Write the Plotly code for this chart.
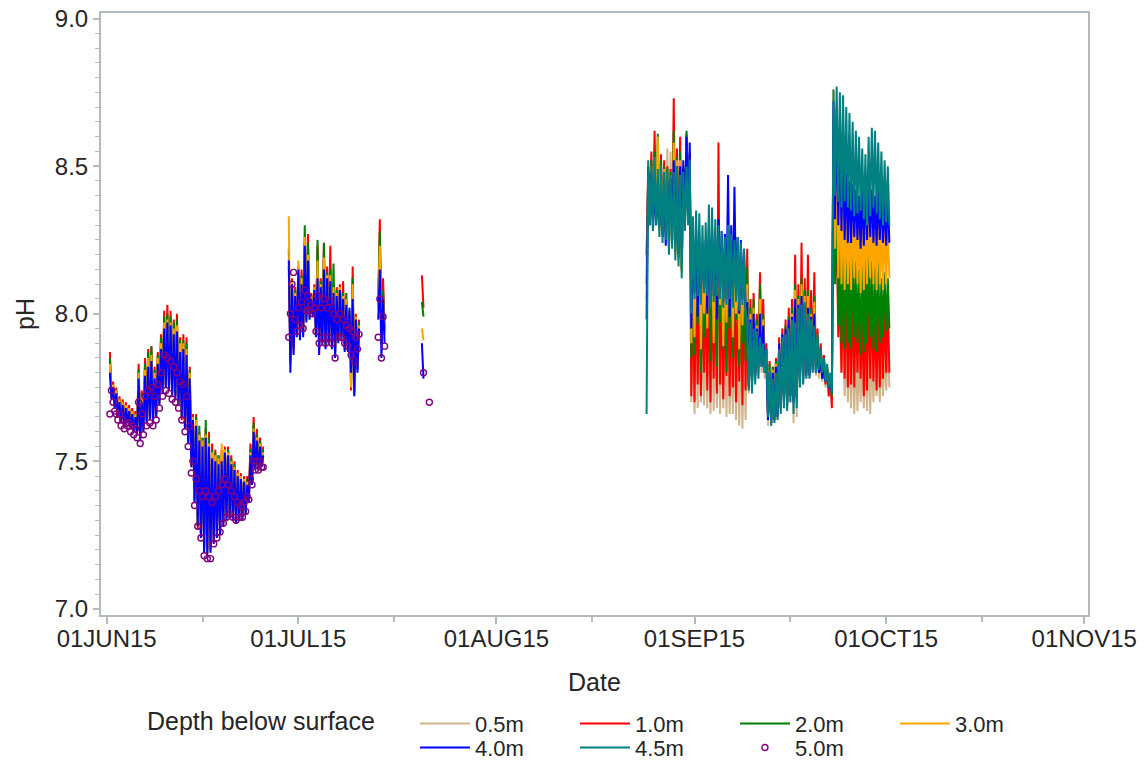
import pandas as pd
import plotly.graph_objects as go

FONT = "Liberation Sans, Arial, sans-serif"
AXIS_COLOR = "#B3BAC0"
TEXT_COLOR = "#262626"

SERIES = ["0.5m", "1.0m", "2.0m", "3.0m", "4.0m", "4.5m", "5.0m"]
COLORS = {
    "0.5m": "#D2B48C", "1.0m": "#FF0000", "2.0m": "#008000", "3.0m": "#FFA500",
    "4.0m": "#0000FF", "4.5m": "#008080", "5.0m": "#800080",
}
LEGEND_ROW1 = ["0.5m", "1.0m", "2.0m", "3.0m"]

MONTH_TICKS = ["2015-06-01", "2015-07-01", "2015-08-01", "2015-09-01", "2015-10-01", "2015-11-01"]
MONTH_LABELS = ["01JUN15", "01JUL15", "01AUG15", "01SEP15", "01OCT15", "01NOV15"]
MID_TICKS = ["2015-06-16", "2015-07-16", "2015-08-16", "2015-09-16", "2015-10-16"]

# ---- time grids of the measurement segments (6-hourly) ----
SEG_A_START, SEG_A_N = "2015-06-01 12:00", 97
SEG_B1_START, SEG_B1_N = "2015-06-29 12:00", 45
SEG_B2_TIMES = ["2015-07-13 12:00", "2015-07-13 18:00", "2015-07-14 00:00", "2015-07-14 06:00", "2015-07-14 12:00"]
SEG_B3_TIMES = ["2015-07-20 08:00", "2015-07-20 14:00", "2015-07-21 12:00"]
SEG_C_START, SEG_C_N = "2015-08-24 12:00", 153

# ---- pH values: early June ----
ph_1_0_A = [7.87, 7.72, 7.77, 7.69, 7.75, 7.66, 7.72, 7.64, 7.71, 7.63,
            7.70, 7.64, 7.69, 7.62, 7.68, 7.61, 7.67, 7.60, 7.83, 7.58,
            7.74, 7.61, 7.85, 7.64, 7.88, 7.65, 7.89, 7.64, 7.82, 7.66,
            7.87, 7.70, 7.93, 7.74, 8.01, 7.76, 8.03, 7.75, 8.01, 7.73,
            7.98, 7.72, 8.00, 7.70, 7.92, 7.64, 7.93, 7.62, 7.92, 7.57,
            7.82, 7.50, 7.66, 7.37, 7.66, 7.27, 7.60, 7.25, 7.58, 7.21,
            7.61, 7.20, 7.60, 7.21, 7.56, 7.23, 7.54, 7.24, 7.52, 7.26,
            7.54, 7.29, 7.55, 7.31, 7.55, 7.32, 7.52, 7.31, 7.50, 7.30,
            7.47, 7.31, 7.46, 7.31, 7.45, 7.33, 7.45, 7.37, 7.56, 7.43,
            7.65, 7.48, 7.61, 7.48, 7.58, 7.49, 7.55]
ph_2_0_A = [7.85, 7.72, 7.76, 7.69, 7.74, 7.66, 7.71, 7.64, 7.70, 7.63,
            7.69, 7.64, 7.68, 7.62, 7.67, 7.61, 7.66, 7.60, 7.81, 7.58,
            7.73, 7.61, 7.83, 7.64, 7.87, 7.65, 7.89, 7.64, 7.81, 7.66,
            7.86, 7.70, 7.92, 7.74, 7.99, 7.76, 8.00, 7.75, 7.99, 7.73,
            7.97, 7.72, 7.98, 7.70, 7.91, 7.65, 7.91, 7.62, 7.90, 7.57,
            7.81, 7.49, 7.65, 7.37, 7.65, 7.28, 7.62, 7.25, 7.58, 7.20,
            7.64, 7.19, 7.58, 7.20, 7.54, 7.23, 7.53, 7.25, 7.52, 7.26,
            7.52, 7.29, 7.54, 7.31, 7.54, 7.32, 7.51, 7.31, 7.49, 7.30,
            7.46, 7.31, 7.45, 7.31, 7.44, 7.33, 7.44, 7.37, 7.54, 7.43,
            7.63, 7.48, 7.59, 7.48, 7.57, 7.49, 7.54]
ph_3_0_A = [7.83, 7.71, 7.76, 7.68, 7.74, 7.65, 7.71, 7.63, 7.70, 7.62,
            7.69, 7.63, 7.68, 7.61, 7.67, 7.60, 7.66, 7.59, 7.80, 7.57,
            7.72, 7.60, 7.81, 7.63, 7.85, 7.64, 7.86, 7.63, 7.80, 7.65,
            7.85, 7.69, 7.90, 7.73, 7.97, 7.75, 7.98, 7.74, 7.97, 7.72,
            7.95, 7.71, 7.96, 7.69, 7.90, 7.65, 7.90, 7.61, 7.88, 7.56,
            7.80, 7.48, 7.65, 7.36, 7.64, 7.28, 7.59, 7.24, 7.57, 7.19,
            7.59, 7.18, 7.56, 7.19, 7.53, 7.22, 7.52, 7.24, 7.51, 7.25,
            7.56, 7.28, 7.54, 7.30, 7.53, 7.31, 7.50, 7.30, 7.48, 7.29,
            7.46, 7.30, 7.45, 7.30, 7.44, 7.32, 7.43, 7.36, 7.53, 7.42,
            7.61, 7.47, 7.58, 7.47, 7.56, 7.48, 7.53]
ph_4_0_A = [7.80, 7.71, 7.75, 7.68, 7.73, 7.65, 7.70, 7.63, 7.69, 7.62,
            7.68, 7.63, 7.67, 7.61, 7.66, 7.60, 7.65, 7.59, 7.78, 7.57,
            7.70, 7.60, 7.79, 7.63, 7.82, 7.64, 7.84, 7.63, 7.78, 7.65,
            7.83, 7.69, 7.88, 7.73, 7.95, 7.75, 7.97, 7.74, 7.96, 7.72,
            7.93, 7.71, 7.94, 7.69, 7.87, 7.65, 7.88, 7.61, 7.86, 7.56,
            7.78, 7.48, 7.64, 7.36, 7.62, 7.28, 7.57, 7.24, 7.55, 7.19,
            7.58, 7.18, 7.55, 7.19, 7.51, 7.22, 7.50, 7.24, 7.49, 7.25,
            7.50, 7.28, 7.53, 7.30, 7.52, 7.31, 7.49, 7.30, 7.47, 7.29,
            7.45, 7.30, 7.44, 7.30, 7.43, 7.32, 7.42, 7.36, 7.52, 7.42,
            7.60, 7.47, 7.57, 7.47, 7.55, 7.48, 7.52]
ph_5_0_A = [7.66, 7.74, 7.70, 7.67, 7.66, 7.64, 7.66, 7.62, 7.64, 7.61,
            7.63, 7.62, 7.63, 7.60, 7.62, 7.59, 7.61, 7.58, 7.70, 7.56,
            7.66, 7.59, 7.72, 7.62, 7.74, 7.63, 7.75, 7.62, 7.72, 7.64,
            7.76, 7.68, 7.80, 7.72, 7.86, 7.74, 7.85, 7.73, 7.84, 7.71,
            7.82, 7.70, 7.80, 7.68, 7.77, 7.64, 7.76, 7.60, 7.72, 7.55,
            7.62, 7.46, 7.50, 7.35, 7.44, 7.28, 7.40, 7.24, 7.38, 7.18,
            7.40, 7.17, 7.38, 7.17, 7.36, 7.22, 7.38, 7.24, 7.40, 7.26,
            7.42, 7.29, 7.44, 7.31, 7.42, 7.32, 7.40, 7.31, 7.38, 7.30,
            7.36, 7.31, 7.35, 7.31, 7.36, 7.33, 7.38, 7.37, 7.44, 7.42,
            7.50, 7.47, 7.50, 7.47, 7.50, 7.48, 7.48]

# ---- pH values: end of June / early July ----
ph_1_0_B1 = [8.16, 7.84, 8.12, 7.88, 8.09, 7.93, 8.13, 7.93, 8.15, 7.94,
             8.24, 7.99, 8.27, 8.00, 8.07, 8.00, 8.10, 7.93, 8.23, 7.88,
             8.12, 7.91, 8.24, 7.90, 8.16, 7.91, 8.23, 7.90, 8.10, 7.87,
             8.09, 7.91, 8.10, 7.92, 8.11, 7.88, 8.05, 7.88, 8.00, 7.74,
             8.16, 7.74, 8.00, 7.82, 7.98]
ph_2_0_B1 = [8.22, 7.85, 8.11, 7.88, 8.08, 7.93, 8.16, 7.92, 8.13, 7.93,
             8.30, 7.98, 8.24, 7.99, 8.06, 8.00, 8.09, 7.93, 8.25, 7.88,
             8.11, 7.91, 8.24, 7.89, 8.14, 7.91, 8.15, 7.89, 8.17, 7.86,
             8.08, 7.91, 8.09, 7.92, 8.07, 7.88, 8.07, 7.88, 8.01, 7.76,
             8.12, 7.73, 7.99, 7.81, 7.97]
ph_3_0_B1 = [8.33, 7.83, 8.11, 7.87, 8.07, 7.93, 8.18, 7.92, 8.12, 7.93,
             8.26, 7.98, 8.20, 7.99, 8.06, 8.00, 8.09, 7.93, 8.18, 7.87,
             8.10, 7.91, 8.19, 7.89, 8.13, 7.91, 8.13, 7.89, 8.09, 7.86,
             8.07, 7.91, 8.09, 7.92, 8.06, 7.88, 8.05, 7.88, 8.01, 7.75,
             8.10, 7.72, 7.99, 7.81, 7.96]
ph_4_0_B1 = [8.18, 7.80, 8.10, 7.86, 8.06, 7.92, 8.15, 7.91, 8.10, 7.92,
             8.23, 7.97, 8.18, 7.98, 8.05, 7.99, 8.08, 7.92, 8.12, 7.86,
             8.09, 7.90, 8.15, 7.88, 8.12, 7.90, 8.11, 7.88, 8.07, 7.85,
             8.06, 7.90, 8.08, 7.91, 8.05, 7.87, 8.03, 7.87, 8.02, 7.80,
             8.05, 7.72, 7.98, 7.80, 7.95]
ph_5_0_B1 = [7.92, 8.00, 8.10, 8.14, 7.98, 7.94, 8.02, 7.96, 8.04, 7.95,
             8.08, 8.01, 8.06, 8.01, 8.03, 8.00, 8.02, 7.94, 8.06, 7.90,
             8.02, 7.92, 8.05, 7.90, 8.02, 7.92, 8.04, 7.90, 8.00, 7.85,
             7.98, 7.92, 8.00, 7.92, 7.98, 7.90, 7.96, 7.89, 7.95, 7.86,
             7.94, 7.84, 7.92, 7.88, 7.93]

ph_1_0_B2 = [8.05, 8.32, 7.92, 8.12, 7.95]
ph_2_0_B2 = [8.03, 8.28, 7.91, 8.08, 7.94]
ph_3_0_B2 = [8.02, 8.23, 7.90, 8.05, 7.93]
ph_4_0_B2 = [7.98, 8.15, 7.85, 8.05, 7.90]
ph_5_0_B2 = [7.92, 8.05, 7.85, 7.99, 7.89]

ph_1_0_B3 = [8.13, 8.02, None]
ph_2_0_B3 = [8.04, 7.99, None]
ph_3_0_B3 = [7.95, 7.91, None]
ph_4_0_B3 = [7.90, 7.78, None]
ph_5_0_B3 = [None, 7.80, 7.70]

# ---- pH values: 24 Aug - 1 Oct ----
ph_0_5_C = [8.18,
            8.47, 8.34, 8.50, 8.32, 8.50, 8.34, 8.48, 8.30, 8.48, 8.28, 8.50, 8.29, 8.56, 8.24,
            8.55, 8.26, 8.55, 8.22, 8.50, 8.20, 8.50, 8.16, 8.48, 8.32, 8.55, 8.34, 8.52, 7.70,
            7.95, 7.66, 7.98, 7.68, 7.97, 7.70, 7.92, 7.69, 7.94, 7.68, 8.00, 7.66, 7.98, 7.67,
            7.96, 7.68, 7.96, 7.66, 7.94, 7.68, 7.92, 7.65, 7.94, 7.66, 7.92, 7.66, 7.95, 7.64,
            7.93, 7.62, 7.95, 7.61, 7.90, 7.64,
            7.95, 7.73, 7.94, 7.76, 7.95, 7.78, 7.92, 7.80, 7.96, 7.80, 7.90, 7.78, 7.80, 7.62,
            7.78, 7.62, 7.78, 7.63, 7.80, 7.64, 7.88, 7.67, 7.90, 7.69, 7.93, 7.68, 7.95, 7.70,
            7.96, 7.63, 7.98, 7.65, 8.00, 7.75, 8.02, 7.76, 7.98, 7.78, 7.98, 7.78, 7.96, 7.80,
            7.96, 7.79, 7.86, 7.78, 7.84, 7.77, 7.82, 7.75, 7.80, 7.74, 7.77, 7.71,
            8.45, 8.17, 8.36, 8.00, 7.95, 7.80, 7.92, 7.72, 7.90, 7.70, 7.88, 7.68, 7.92, 7.66,
            7.88, 7.67, 7.85, 7.70, 7.86, 7.68, 7.92, 7.67, 7.90, 7.66, 7.88, 7.70, 7.86, 7.72,
            7.88, 7.70, 7.90, 7.72, 7.88, 7.74, 7.90, 7.75]
ph_1_0_C = [8.20,
            8.50, 8.33, 8.55, 8.31, 8.62, 8.33, 8.52, 8.29, 8.54, 8.27, 8.52, 8.28, 8.50, 8.23,
            8.49, 8.25, 8.73, 8.21, 8.56, 8.19, 8.60, 8.15, 8.50, 8.31, 8.61, 8.33, 8.55, 7.72,
            8.10, 7.70, 8.12, 7.76, 8.14, 7.72, 8.08, 7.80, 8.10, 7.74, 8.15, 7.70, 8.12, 7.78,
            8.10, 7.73, 8.58, 7.76, 8.12, 7.71, 8.08, 7.79, 8.14, 7.72, 8.10, 7.75, 8.12, 7.70,
            8.10, 7.77, 8.12, 7.69, 8.15, 7.74,
            8.22, 7.76, 8.05, 7.78, 8.07, 7.80, 8.00, 7.84, 8.14, 7.84, 8.05, 7.80, 7.90, 7.66,
            7.84, 7.63, 7.82, 7.64, 7.85, 7.65, 7.92, 7.68, 7.95, 7.70, 7.98, 7.69, 8.02, 7.72,
            8.05, 7.70, 8.20, 7.72, 8.10, 7.78, 8.24, 7.78, 8.12, 7.80, 8.20, 7.80, 8.08, 7.82,
            8.14, 7.81, 7.95, 7.80, 7.90, 7.78, 7.86, 7.76, 7.82, 7.72, 7.78, 7.68,
            8.60, 8.12, 8.30, 7.92, 8.10, 7.80, 8.08, 7.78, 8.10, 7.75, 8.05, 7.76, 8.08, 7.75,
            8.05, 7.80, 8.02, 7.78, 8.00, 7.72, 8.02, 7.74, 8.10, 7.78, 8.06, 7.77, 8.02, 7.74,
            8.04, 7.75, 8.05, 7.78, 8.03, 7.80, 8.05, 7.80]
ph_2_0_C = [8.10,
            8.48, 8.33, 8.52, 8.31, 8.55, 8.33, 8.61, 8.29, 8.52, 8.27, 8.50, 8.28, 8.49, 8.23,
            8.48, 8.25, 8.62, 8.21, 8.53, 8.19, 8.55, 8.15, 8.49, 8.31, 8.62, 8.33, 8.54, 7.85,
            8.16, 7.86, 8.18, 7.96, 8.18, 7.80, 8.14, 7.92, 8.15, 7.99, 8.20, 7.84, 8.19, 7.94,
            8.16, 7.82, 8.22, 7.97, 8.18, 7.88, 8.15, 7.80, 8.18, 7.95, 8.20, 7.85, 8.17, 7.98,
            8.16, 7.82, 8.18, 7.90, 8.14, 7.84,
            8.16, 7.75, 8.02, 7.77, 8.05, 7.79, 7.98, 7.83, 8.10, 7.83, 8.00, 7.80, 7.88, 7.66,
            7.83, 7.64, 7.82, 7.65, 7.84, 7.66, 7.90, 7.69, 7.93, 7.71, 7.96, 7.70, 7.99, 7.73,
            8.02, 7.71, 8.10, 7.72, 8.06, 7.78, 8.12, 7.78, 8.08, 7.80, 8.08, 7.80, 8.02, 7.82,
            8.06, 7.81, 7.92, 7.80, 7.88, 7.78, 7.85, 7.77, 7.82, 7.75, 7.78, 7.72,
            8.68, 8.10, 8.45, 7.96, 8.25, 7.90, 8.22, 7.88, 8.24, 7.90, 8.20, 7.88, 8.22, 7.92,
            8.18, 7.90, 8.15, 7.86, 8.16, 7.87, 8.22, 7.90, 8.20, 7.92, 8.18, 7.88, 8.16, 7.87,
            8.18, 7.90, 8.12, 7.92, 8.14, 7.94, 8.12, 7.95]
ph_3_0_C = [8.05,
            8.47, 8.32, 8.50, 8.30, 8.53, 8.32, 8.60, 8.28, 8.50, 8.26, 8.49, 8.27, 8.48, 8.22,
            8.47, 8.24, 8.58, 8.20, 8.52, 8.18, 8.52, 8.14, 8.48, 8.30, 8.56, 8.32, 8.53, 7.90,
            8.20, 7.92, 8.22, 8.02, 8.22, 7.88, 8.18, 8.00, 8.19, 7.95, 8.24, 8.04, 8.23, 7.90,
            8.20, 7.98, 8.26, 8.03, 8.22, 7.89, 8.20, 7.97, 8.22, 8.02, 8.24, 7.92, 8.21, 8.00,
            8.20, 7.88, 8.22, 7.96, 8.18, 8.01,
            8.10, 7.76, 8.00, 7.78, 8.02, 7.80, 7.96, 7.84, 8.05, 7.84, 7.98, 7.81, 7.86, 7.67,
            7.82, 7.65, 7.81, 7.66, 7.83, 7.67, 7.90, 7.70, 7.93, 7.72, 7.95, 7.71, 7.98, 7.74,
            8.00, 7.72, 8.08, 7.73, 8.05, 7.79, 8.10, 7.79, 8.06, 7.81, 8.06, 7.81, 8.00, 7.83,
            8.04, 7.82, 7.90, 7.81, 7.87, 7.79, 7.84, 7.78, 7.82, 7.76, 7.79, 7.73,
            8.76, 8.22, 8.60, 8.12, 8.45, 8.10, 8.38, 8.08, 8.36, 8.10, 8.34, 8.08, 8.35, 8.12,
            8.33, 8.10, 8.30, 8.07, 8.32, 8.08, 8.36, 8.10, 8.35, 8.12, 8.33, 8.10, 8.32, 8.08,
            8.34, 8.10, 8.30, 8.08, 8.31, 8.10, 8.30, 8.12]
ph_4_0_C = [7.98,
            8.50, 8.30, 8.48, 8.28, 8.45, 8.30, 8.40, 8.30, 8.45, 8.26, 8.44, 8.23, 8.45, 8.28,
            8.46, 8.30, 8.52, 8.24, 8.50, 8.20, 8.50, 8.22, 8.52, 8.32, 8.60, 8.34, 8.58, 7.95,
            8.26, 8.07, 8.28, 7.99, 8.27, 8.05, 8.24, 8.09, 8.25, 8.00, 8.30, 8.04, 8.29, 8.06,
            8.26, 7.98, 8.32, 8.07, 8.28, 8.04, 8.27, 8.05, 8.47, 7.99, 8.30, 8.04, 8.43, 8.06,
            8.26, 8.00, 8.25, 8.05, 8.22, 8.02,
            8.04, 7.75, 7.98, 7.77, 8.00, 7.79, 7.95, 7.82, 8.00, 7.82, 7.96, 7.80, 7.84, 7.64,
            7.80, 7.63, 7.80, 7.64, 7.82, 7.65, 7.90, 7.68, 7.93, 7.70, 7.95, 7.69, 7.98, 7.72,
            7.99, 7.70, 8.05, 7.71, 8.03, 7.77, 8.06, 7.77, 8.03, 7.79, 8.02, 7.79, 7.99, 7.81,
            8.00, 7.80, 7.88, 7.80, 7.86, 7.78, 7.83, 7.77, 7.81, 7.75, 7.78, 7.73,
            8.72, 8.32, 8.70, 8.30, 8.62, 8.28, 8.55, 8.25, 8.48, 8.24, 8.45, 8.24, 8.44, 8.26,
            8.42, 8.25, 8.40, 8.22, 8.42, 8.23, 8.44, 8.25, 8.45, 8.26, 8.42, 8.24, 8.40, 8.23,
            8.42, 8.25, 8.40, 8.24, 8.38, 8.23, 8.40, 8.24]
ph_4_5_C = [7.66,
            8.52, 8.30, 8.50, 8.28, 8.53, 8.30, 8.49, 8.26, 8.50, 8.24, 8.48, 8.25, 8.49, 8.20,
            8.47, 8.22, 8.48, 8.18, 8.50, 8.16, 8.47, 8.12, 8.48, 8.28, 8.50, 8.30, 8.52, 8.00,
            8.33, 8.05, 8.35, 8.06, 8.34, 8.03, 8.30, 8.07, 8.31, 8.06, 8.37, 8.02, 8.36, 8.04,
            8.32, 8.06, 8.30, 8.05, 8.28, 8.02, 8.26, 8.03, 8.30, 8.05, 8.27, 8.02, 8.25, 8.04,
            8.26, 8.01, 8.24, 8.03, 8.22, 8.00,
            7.98, 7.74, 7.97, 7.73, 7.95, 7.76, 7.94, 7.78, 7.92, 7.82, 7.90, 7.80, 7.88, 7.65,
            7.82, 7.62, 7.78, 7.63, 7.80, 7.64, 7.88, 7.66, 7.92, 7.68, 7.93, 7.67, 7.95, 7.70,
            7.98, 7.66, 7.97, 7.68, 8.02, 7.75, 8.03, 7.76, 8.04, 7.78, 8.00, 7.78, 7.98, 7.80,
            7.96, 7.80, 7.93, 7.81, 7.88, 7.80, 7.85, 7.77, 7.83, 7.75, 7.80, 7.73,
            8.76, 8.40, 8.77, 8.38, 8.75, 8.36, 8.74, 8.38, 8.70, 8.36, 8.68, 8.35, 8.65, 8.33,
            8.62, 8.34, 8.60, 8.35, 8.56, 8.32, 8.54, 8.30, 8.60, 8.33, 8.63, 8.36, 8.62, 8.34,
            8.58, 8.32, 8.55, 8.30, 8.52, 8.31, 8.50, 8.30]

DATA = {
    "0.5m": {"C": ph_0_5_C},
    "1.0m": {"A": ph_1_0_A, "B1": ph_1_0_B1, "B2": ph_1_0_B2, "B3": ph_1_0_B3, "C": ph_1_0_C},
    "2.0m": {"A": ph_2_0_A, "B1": ph_2_0_B1, "B2": ph_2_0_B2, "B3": ph_2_0_B3, "C": ph_2_0_C},
    "3.0m": {"A": ph_3_0_A, "B1": ph_3_0_B1, "B2": ph_3_0_B2, "B3": ph_3_0_B3, "C": ph_3_0_C},
    "4.0m": {"A": ph_4_0_A, "B1": ph_4_0_B1, "B2": ph_4_0_B2, "B3": ph_4_0_B3, "C": ph_4_0_C},
    "4.5m": {"C": ph_4_5_C},
    "5.0m": {"A": ph_5_0_A, "B1": ph_5_0_B1, "B2": ph_5_0_B2, "B3": ph_5_0_B3},
}


def grid(start, n):
    return list(pd.date_range(start, periods=n, freq="6h"))


TIMES = {
    "A": grid(SEG_A_START, SEG_A_N),
    "B1": grid(SEG_B1_START, SEG_B1_N),
    "B2": list(pd.to_datetime(SEG_B2_TIMES)),
    "B3": list(pd.to_datetime(SEG_B3_TIMES)),
    "C": grid(SEG_C_START, SEG_C_N),
}
SEG_ORDER = ["A", "B1", "B2", "B3", "C"]


def assemble(series):
    xs, ys = [], []
    for seg in SEG_ORDER:
        vals = DATA[series].get(seg)
        if vals is None:
            continue
        t = TIMES[seg]
        assert len(t) == len(vals), (series, seg, len(t), len(vals))
        if xs:  # break the line between measurement campaigns
            xs.append(xs[-1] + pd.Timedelta(hours=1))
            ys.append(None)
        xs.extend(t)
        ys.extend(vals)
    return [x.strftime("%Y-%m-%d %H:%M") for x in xs], ys


fig = go.Figure()
for s in SERIES:
    x, y = assemble(s)
    legend_id = "legend" if s in LEGEND_ROW1 else "legend2"
    if s == "5.0m":
        fig.add_trace(go.Scatter(
            x=x, y=y, name=s, mode="markers", legend=legend_id,
            marker=dict(symbol="circle-open", size=6, color=COLORS[s], line=dict(width=1.4, color=COLORS[s])),
        ))
    else:
        fig.add_trace(go.Scatter(
            x=x, y=y, name=s, mode="lines", legend=legend_id,
            line=dict(color=COLORS[s], width=2),
        ))

legend_common = dict(
    orientation="h", xref="container", yref="container", xanchor="left", yanchor="top", x=0.3621,
    font=dict(family=FONT, size=22, color=TEXT_COLOR),
    itemwidth=50, entrywidth=95, entrywidthmode="pixels",
    bgcolor="rgba(0,0,0,0)", borderwidth=0, traceorder="normal",
)

fig.update_layout(
    width=1146, height=766,
    margin=dict(l=101, r=58, t=13, b=151),
    paper_bgcolor="white", plot_bgcolor="white",
    font=dict(family=FONT, size=22, color=TEXT_COLOR),
    showlegend=True,
    legend=dict(**legend_common, y=0.0826),
    legend2=dict(**legend_common, y=0.0513),
    xaxis=dict(
        type="date", range=["2015-05-31 02:40", "2015-11-01 14:00"], automargin=False,
        tickmode="array", tickvals=MONTH_TICKS, ticktext=MONTH_LABELS,
        ticks="outside", ticklen=7, tickwidth=1.5, tickcolor=AXIS_COLOR,
        showline=True, linecolor=AXIS_COLOR, linewidth=2, mirror=True,
        showgrid=False, zeroline=False,
        tickfont=dict(family=FONT, size=24, color=TEXT_COLOR),
        minor=dict(tickmode="array", tickvals=MID_TICKS, ticks="outside", ticklen=5,
                   tickwidth=1.5, tickcolor=AXIS_COLOR, showgrid=False),
    ),
    yaxis=dict(
        range=[6.979, 9.019], tick0=7.0, dtick=0.5, tickformat=".1f", automargin=False,
        ticks="outside", ticklen=6, tickwidth=1.5, tickcolor=AXIS_COLOR,
        showline=True, linecolor=AXIS_COLOR, linewidth=2, mirror=True,
        showgrid=False, zeroline=False,
        tickfont=dict(family=FONT, size=24, color=TEXT_COLOR),
        minor=dict(dtick=0.05, tick0=7.0, ticks="outside", ticklen=4,
                   tickwidth=1.2, tickcolor=AXIS_COLOR, showgrid=False),
    ),
    annotations=[
        dict(text="Date", xref="paper", yref="paper", x=0.5, y=-0.112, xanchor="center", yanchor="middle",
             showarrow=False, font=dict(family=FONT, size=25, color=TEXT_COLOR)),
        dict(text="pH", xref="paper", yref="paper", x=-0.077, y=0.5, xanchor="center", yanchor="middle",
             textangle=-90, showarrow=False, font=dict(family=FONT, size=25, color=TEXT_COLOR)),
        dict(text="Depth below surface", xref="paper", yref="paper", x=0.0446, y=-0.1766,
             xanchor="left", yanchor="middle", showarrow=False,
             font=dict(family=FONT, size=25, color=TEXT_COLOR)),
    ],
)

try:
    fig.update_xaxes(ticklabelstandoff=-6)
except Exception:
    pass

fig.write_html("out.html")
